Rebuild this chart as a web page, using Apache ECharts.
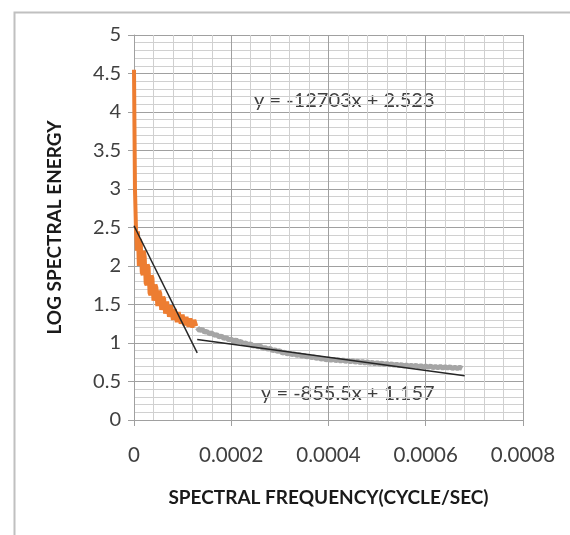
<!DOCTYPE html>
<html>
<head>
<meta charset="utf-8">
<script src="https://cdn.jsdelivr.net/npm/echarts@6/dist/echarts.min.js"></script>
<style>
html,body{margin:0;padding:0;background:#fff;}
#c{width:570px;height:535px;}
</style>
</head>
<body>
<div id="c"></div>
<script>
// Low-frequency part (orange), sampled every orangeStep starting at orangeStart
var orangeStart = 0;
var orangeStep = 0.000002;
var orangeValues = [4.55, 3.00, 2.50, 2.20, 2.45, 2.00, 2.35, 2.28, 1.92, 1.88,
  2.20, 2.12, 1.78, 1.75, 2.02, 1.98, 1.65, 1.62, 1.88, 1.84,
  1.55, 1.53, 1.76, 1.72, 1.48, 1.47, 1.68, 1.64, 1.43, 1.42,
  1.60, 1.57, 1.38, 1.38, 1.54, 1.52, 1.34, 1.34, 1.49, 1.47,
  1.30, 1.30, 1.44, 1.42, 1.27, 1.27, 1.40, 1.39, 1.25, 1.25,
  1.37, 1.36, 1.23, 1.23, 1.34, 1.33, 1.21, 1.21, 1.32, 1.31,
  1.20, 1.20, 1.30, 1.29, 1.22];

// High-frequency part (grey)
var greyStart = 0.00013;
var greyStep = 0.000005;
var greyValues = [1.20, 1.16, 1.18, 1.14, 1.15, 1.12, 1.13, 1.10, 1.11, 1.08,
  1.09, 1.06, 1.07, 1.04, 1.05, 1.02, 1.04, 1.01, 1.02, 0.99,
  1.00, 0.98, 0.99, 0.96, 0.97, 0.95, 0.96, 0.93, 0.94, 0.92,
  0.93, 0.90, 0.91, 0.89, 0.90, 0.87, 0.88, 0.86, 0.87, 0.85,
  0.86, 0.84, 0.85, 0.83, 0.84, 0.82, 0.83, 0.81, 0.82, 0.80,
  0.81, 0.79, 0.80, 0.78, 0.795, 0.775, 0.79, 0.77, 0.785, 0.765,
  0.78, 0.76, 0.775, 0.755, 0.77, 0.75, 0.765, 0.745, 0.76, 0.74,
  0.755, 0.735, 0.75, 0.73, 0.745, 0.725, 0.74, 0.72, 0.735, 0.715,
  0.73, 0.71, 0.725, 0.705, 0.72, 0.70, 0.715, 0.70, 0.71, 0.695,
  0.71, 0.69, 0.705, 0.685, 0.70, 0.685, 0.70, 0.68, 0.695, 0.68,
  0.695, 0.675, 0.69, 0.675, 0.69, 0.67, 0.685, 0.67, 0.685, 0.67];

// Linear trend lines (from the equations shown on the chart)
var trendSlopes = [-12703, -855.5];
var trendIntercepts = [2.523, 1.157];
var trendFrom = [0, 0.00013];
var trendTo = [0.00013, 0.00068];
var trendLabels = ['y = -12703x + 2.523', 'y = -855.5x + 1.157'];

var xTicks = ['0', '0.0002', '0.0004', '0.0006', '0.0008'];
var xTitle = 'SPECTRAL FREQUENCY(CYCLE/SEC)';
var yTitle = 'LOG SPECTRAL ENERGY';

function pairs(start, step, vals) {
  return vals.map(function (v, i) { return [start + i * step, v]; });
}
function trend(k) {
  return [[trendFrom[k], trendSlopes[k] * trendFrom[k] + trendIntercepts[k]],
          [trendTo[k], trendSlopes[k] * trendTo[k] + trendIntercepts[k]]];
}

var FONT = 'Lato, "Open Sans", sans-serif';
var chart = echarts.init(document.getElementById('c'), null, {renderer: 'canvas'});
chart.setOption({
  animation: false,
  backgroundColor: '#ffffff',
  grid: {left: 134, right: 47, top: 35, bottom: 115, containLabel: false},
  xAxis: {
    type: 'value', min: 0, max: 0.0008, interval: 0.0002,
    axisLine: {show: true, lineStyle: {color: '#a0a0a0', width: 1}},
    axisTick: {show: true, inside: false, length: 6, lineStyle: {color: '#a0a0a0'}},
    minorTick: {show: false},
    splitLine: {show: true, lineStyle: {color: '#a0a0a0', width: 1}},
    minorSplitLine: {show: true, lineStyle: {color: '#d0d0d0', width: 1}},
    axisLabel: {
      color: '#404040', fontFamily: FONT, fontSize: 20.5, margin: 25,
      formatter: function (v) { return xTicks[Math.round(v / 0.0002)]; }
    },
    name: xTitle, nameLocation: 'middle', nameGap: 68,
    nameTextStyle: {color: '#1a1a1a', fontFamily: FONT, fontSize: 19, fontWeight: 'bold'}
  },
  yAxis: {
    type: 'value', min: 0, max: 5, interval: 0.5,
    axisLine: {show: true, lineStyle: {color: '#a0a0a0', width: 1}},
    axisTick: {show: true, inside: false, length: 6, lineStyle: {color: '#a0a0a0'}},
    splitLine: {show: true, lineStyle: {color: '#a0a0a0', width: 1}},
    minorSplitLine: {show: true, lineStyle: {color: '#d0d0d0', width: 1}},
    minorTick: {show: false, splitNumber: 5},
    axisLabel: {color: '#404040', fontFamily: FONT, fontSize: 20, margin: 13},
    name: yTitle, nameLocation: 'middle', nameGap: 70, nameRotate: 90,
    nameTextStyle: {color: '#1a1a1a', fontFamily: FONT, fontSize: 19, fontWeight: 'bold'}
  },
  series: [
    {type: 'line', data: pairs(greyStart, greyStep, greyValues), showSymbol: false,
     lineStyle: {color: '#a5a5a5', width: 5}, z: 2},
    {type: 'line', data: pairs(orangeStart, orangeStep, orangeValues), showSymbol: false,
     lineStyle: {color: '#ed7d31', width: 4}, z: 3},
    {type: 'line', data: trend(0), showSymbol: false,
     lineStyle: {color: '#262626', width: 1.5}, z: 4},
    {type: 'line', data: trend(1), showSymbol: false,
     lineStyle: {color: '#262626', width: 1.5}, z: 4}
  ],
  graphic: [
    {type: 'rect', left: 12, top: 10, shape: {width: 600, height: 600},
     style: {fill: 'none', stroke: '#c0c0c0', lineWidth: 2}, z: -1},
    {type: 'text', left: 254, top: 91,
     style: {text: trendLabels[0], fill: '#404040', font: '20px ' + FONT}},
    {type: 'text', left: 261, top: 384,
     style: {text: trendLabels[1], fill: '#404040', font: '20px ' + FONT}}
  ]
});
</script>
</body>
</html>
